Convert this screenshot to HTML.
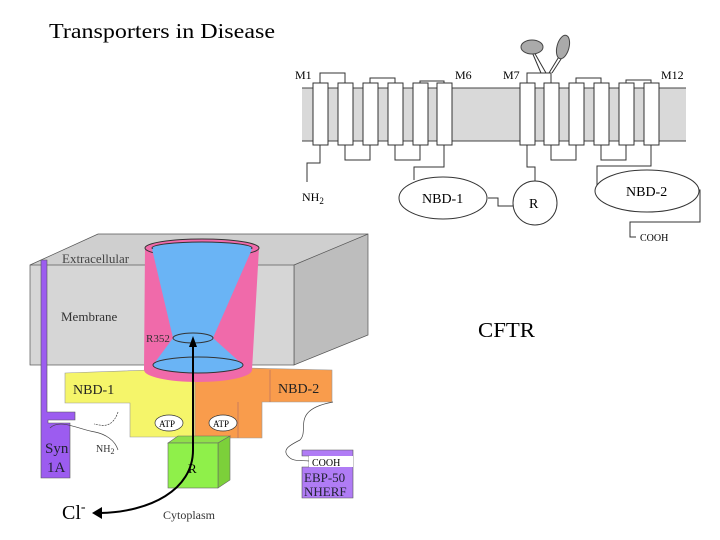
<!DOCTYPE html>
<html><head><meta charset="utf-8"><style>
html,body{margin:0;padding:0;background:#fff;}
svg{display:block;}
text{font-family:"Liberation Serif",serif;}
</style></head><body>
<svg width="720" height="540" viewBox="0 0 720 540" xmlns="http://www.w3.org/2000/svg">
<text x="49" y="38" font-size="21" textLength="226" lengthAdjust="spacingAndGlyphs">Transporters in Disease</text>
<text x="478" y="337" font-size="21" textLength="57" lengthAdjust="spacingAndGlyphs">CFTR</text>

<!-- top topology diagram -->
<rect x="302" y="88" width="384" height="53" fill="#d9d9d9"/>
<line x1="302" y1="88" x2="686" y2="88" stroke="#444" stroke-width="1"/>
<line x1="302" y1="141" x2="686" y2="141" stroke="#444" stroke-width="1"/>
<g fill="none" stroke="#333" stroke-width="1">
<polyline points="320,83 320,73 345,73 345,83"/>
<polyline points="370,83 370,78 395,78 395,83"/>
<polyline points="420,83 420,81 444,81 444,83"/>
<polyline points="527,83 527,73 551,73 551,83"/>
<polyline points="576,83 576,78 601,78 601,83"/>
<polyline points="626,83 626,80 651,80 651,83"/>
<polyline points="345,145 345,160 370,160 370,145"/>
<polyline points="395,145 395,160 420,160 420,145"/>
<polyline points="551,145 551,160 576,160 576,145"/>
<polyline points="601,145 601,160 626,160 626,145"/>
<polyline points="320,145 320,163 307,163 307,182"/>
<polyline points="444,145 444,167 414,167 414,180"/>
<polyline points="527,145 527,167 535,167 535,181"/>
<polyline points="488,198 498,198 498,206 513,206"/>
<polyline points="651,145 651,166 597,166 597,191"/>
<polyline points="693,190 700,190 700,222 630,222 630,237 636,237"/>
<line x1="541" y1="73" x2="532" y2="52"/><line x1="546" y1="73" x2="534" y2="52"/>
<line x1="549" y1="73" x2="560" y2="55"/><line x1="552" y1="73" x2="563" y2="56"/>
</g>
<ellipse cx="532" cy="47" rx="11" ry="7" fill="#aaa" stroke="#444"/>
<ellipse cx="563" cy="47" rx="6" ry="12" fill="#aaa" stroke="#444" transform="rotate(15 563 47)"/>
<g fill="#fff" stroke="#333" stroke-width="1">
<rect x="313" y="83" width="15" height="62"/><rect x="338" y="83" width="15" height="62"/>
<rect x="363" y="83" width="15" height="62"/><rect x="388" y="83" width="15" height="62"/>
<rect x="413" y="83" width="15" height="62"/><rect x="437" y="83" width="15" height="62"/>
<rect x="520" y="83" width="15" height="62"/><rect x="544" y="83" width="15" height="62"/>
<rect x="569" y="83" width="15" height="62"/><rect x="594" y="83" width="15" height="62"/>
<rect x="619" y="83" width="15" height="62"/><rect x="644" y="83" width="15" height="62"/>
<ellipse cx="443" cy="198" rx="44" ry="21"/>
<circle cx="535" cy="203" r="22"/>
<ellipse cx="647" cy="191" rx="52" ry="21"/>
</g>
<g font-size="12">
<text x="295" y="79">M1</text><text x="455" y="79">M6</text>
<text x="503" y="79">M7</text><text x="661" y="79">M12</text>
<text x="302" y="201">NH<tspan font-size="9" dy="3">2</tspan></text>
<text x="422" y="203" font-size="14">NBD-1</text>
<text x="529" y="208" font-size="14">R</text>
<text x="626" y="196" font-size="14">NBD-2</text>
<text x="640" y="241" font-size="10">COOH</text>
</g>

<!-- 3D membrane box -->
<polygon points="30,265 98,234 368,234 294,265" fill="#cfcfcf"/>
<polygon points="294,265 368,234 368,335 294,365" fill="#bdbdbd" stroke="#555" stroke-width="0.7"/>
<rect x="30" y="265" width="264" height="100" fill="#d6d6d6" stroke="#555" stroke-width="0.7"/>
<polyline points="30,265 98,234 368,234" fill="none" stroke="#555" stroke-width="0.7"/>
<text x="62" y="263" font-size="13" fill="#444">Extracellular</text>
<text x="61" y="321" font-size="13" fill="#333">Membrane</text>

<!-- NBD1 yellow -->
<polygon points="65,373 150,370 195,370 195,437 130,437 130,403 65,403" fill="#f5f56a" stroke="#999" stroke-width="0.6"/>
<!-- NBD2 orange -->
<polygon points="195,370 245,368 332,370 332,402 262,402 262,438 195,438" fill="#f99c4c" stroke="#999" stroke-width="0.6"/>
<line x1="270" y1="370" x2="270" y2="402" stroke="#a66" stroke-width="0.6"/>
<line x1="238" y1="402" x2="238" y2="438" stroke="#a66" stroke-width="0.6"/>
<text x="73" y="394" font-size="14" fill="#222">NBD-1</text>
<text x="278" y="393" font-size="14" fill="#222">NBD-2</text>
<ellipse cx="169" cy="423" rx="14" ry="8" fill="#fff" stroke="#333" stroke-width="0.7"/>
<text x="159" y="427" font-size="9">ATP</text>
<ellipse cx="223" cy="423" rx="14" ry="8" fill="#fff" stroke="#333" stroke-width="0.7"/>
<text x="213" y="427" font-size="9">ATP</text>
<!-- R green -->
<polygon points="168,443 178,436 230,436 218,443" fill="#8fe04a" stroke="#666" stroke-width="0.6"/>
<polygon points="218,443 230,436 230,480 218,488" fill="#7cd03a" stroke="#666" stroke-width="0.6"/>
<rect x="168" y="443" width="50" height="45" fill="#8ff04a" stroke="#666" stroke-width="0.6"/>
<text x="188" y="473" font-size="13">R</text>

<!-- pink cup -->
<path d="M145,248 L144,370 A54,12 0 0 0 252,370 L259,248 Z" fill="#f06aaa"/>
<ellipse cx="202" cy="248" rx="57" ry="9" fill="#f06aaa" stroke="#333" stroke-width="1"/>
<ellipse cx="202" cy="248" rx="50" ry="6" fill="#6ab4f5" stroke="#333" stroke-width="1"/>
<polygon points="152,249 252,249 213,338 173,338" fill="#6ab4f5"/>
<polygon points="173,338 213,338 243,365 153,365" fill="#6ab4f5"/>
<ellipse cx="193" cy="338" rx="20" ry="5" fill="#6ab4f5" stroke="#333" stroke-width="1"/>
<ellipse cx="198" cy="365" rx="45" ry="8" fill="#6ab4f5" stroke="#333" stroke-width="1"/>
<text x="146" y="342" font-size="11" fill="#333">R352</text>

<!-- purple Syn1A -->
<polygon points="41,260 47,260 47,412 75,412 75,420 48,420 48,423 70,423 70,478 41,478" fill="#9c5cf0" stroke="#555" stroke-width="0.6"/>
<text x="45" y="453" font-size="15" fill="#223">Syn</text>
<text x="47" y="472" font-size="15" fill="#223">1A</text>
<path d="M50,428 C60,418 80,430 95,432 C105,434 115,440 118,450" fill="none" stroke="#444" stroke-width="0.7"/>
<text x="96" y="452" font-size="10" fill="#333">NH<tspan font-size="8" dy="2">2</tspan></text>
<path d="M118,412 C112,430 100,425 94,424" fill="none" stroke="#444" stroke-width="0.7" stroke-dasharray="2,1"/>
<!-- EBP50 -->
<polygon points="302,450 353,450 353,498 302,498 302,467 309,467 309,456 302,456" fill="#b07cf5" stroke="#555" stroke-width="0.6"/>
<rect x="309" y="456" width="44" height="11" fill="#fff"/>
<text x="312" y="466" font-size="10">COOH</text>
<text x="304" y="482" font-size="13" fill="#223">EBP-50</text>
<text x="304" y="496" font-size="13" fill="#223">NHERF</text>
<path d="M333,402 C290,410 310,430 300,440 C290,445 280,450 290,458 C295,462 305,460 309,461" fill="none" stroke="#444" stroke-width="0.7"/>

<!-- arrow -->
<path d="M193,450 C193,490 150,512 100,513" fill="none" stroke="#000" stroke-width="2"/>
<path d="M193,345 L193,450" fill="none" stroke="#000" stroke-width="2"/>
<polygon points="193,336 189,347 197,347" fill="#000"/>
<polygon points="92,513 102,507 102,519" fill="#000"/>
<text x="62" y="519" font-size="20">Cl<tspan font-size="14" dy="-8">-</tspan></text>
<text x="163" y="519" font-size="12" fill="#333">Cytoplasm</text>
</svg>
</body></html>
